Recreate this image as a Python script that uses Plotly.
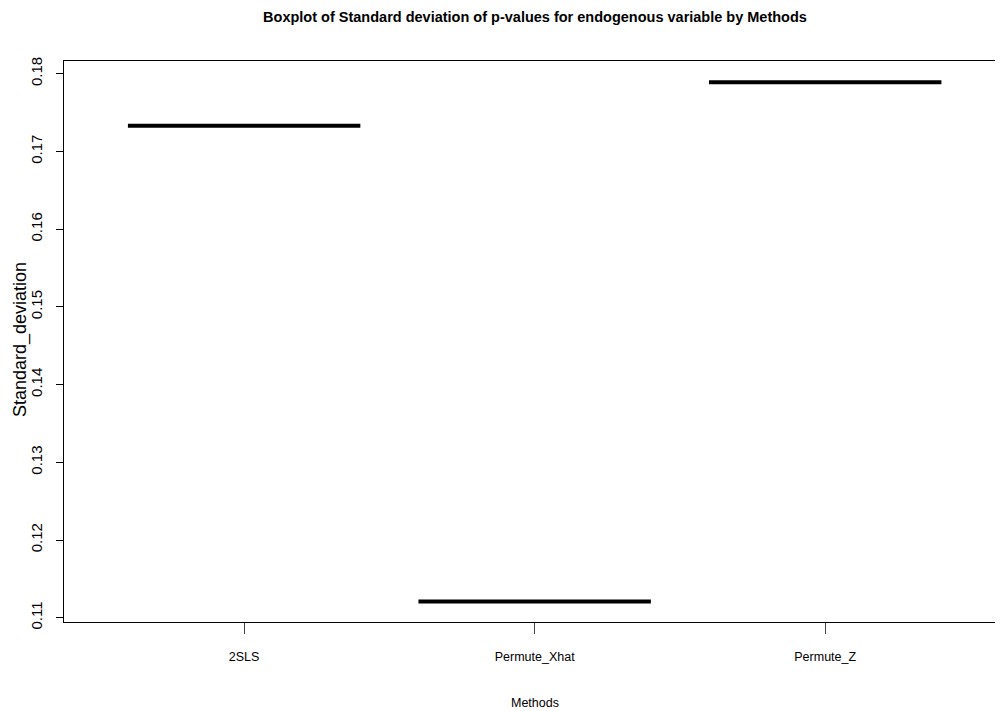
import plotly.graph_objects as go

methods = ["2SLS", "Permute_Xhat", "Permute_Z"]
std_dev = [0.1733, 0.1121, 0.1789]
y_ticks = [0.11, 0.12, 0.13, 0.14, 0.15, 0.16, 0.17, 0.18]

# the page body adds an 8px offset, so the figure is sized to fit the window
OFF = 8
W, H = 1003 - OFF, 711 - OFF
L, T = 64 - OFF, 61 - OFF
BOT = 622 - OFF
B = H - BOT
PW, PH = W - L, BOT - T

fig = go.Figure()
for i, (m, v) in enumerate(zip(methods, std_dev)):
    fig.add_trace(go.Box(
        x=[i + 1], y=[v], name=m, width=0.8,
        line=dict(color="black", width=4),
        fillcolor="rgba(0,0,0,0)", boxpoints=False,
        hoverinfo="skip", showlegend=False,
    ))

font = "Liberation Sans, Arial, sans-serif"

fig.update_layout(
    template="none",
    width=W, height=H,
    margin=dict(l=L, r=0, t=T, b=B, pad=0, autoexpand=False),
    paper_bgcolor="white", plot_bgcolor="white",
    hovermode=False,
    title=dict(
        text="<b>Boxplot of Standard deviation of p-values for endogenous variable by Methods</b>",
        font=dict(family=font, size=14.5, color="black"),
        x=(535 - OFF) / W, xref="container", xanchor="center",
        y=1 - (17 - OFF) / H, yref="container", yanchor="middle",
    ),
    xaxis=dict(
        range=[0.38, 3.612], automargin=False,
        tickmode="array", tickvals=[1, 2, 3], ticktext=methods,
        ticks="outside", ticklen=11, tickwidth=1, tickcolor="#444",
        ticklabelstandoff=12,
        showline=True, linecolor="black", linewidth=1, mirror=True,
        showgrid=False, zeroline=False,
        tickfont=dict(family=font, size=12.5, color="black"),
    ),
    yaxis=dict(
        range=[0.10945, 0.18163], automargin=False,
        tickmode="array", tickvals=y_ticks, ticktext=[f"{t:.2f}" for t in y_ticks],
        tickangle=-90,
        ticks="outside", ticklen=7, tickwidth=1, tickcolor="black",
        ticklabelstandoff=8,
        showline=True, linecolor="black", linewidth=1, mirror=False,
        showgrid=False, zeroline=False,
        tickfont=dict(family=font, size=15, color="black"),
    ),
    annotations=[
        dict(text="Methods", xref="paper", yref="paper",
             x=(535 - OFF - L) / PW, y=(BOT - (703 - OFF)) / PH,
             xanchor="center", yanchor="middle", showarrow=False,
             font=dict(family=font, size=12.5, color="black")),
        dict(text="Standard_deviation", xref="paper", yref="paper",
             x=(0.5 - L) / PW, y=(BOT - (340 - OFF)) / PH, textangle=-90,
             xanchor="left", yanchor="middle", showarrow=False, borderpad=0,
             font=dict(family=font, size=18, color="black")),
    ],
)

fig.write_html("out.html")
